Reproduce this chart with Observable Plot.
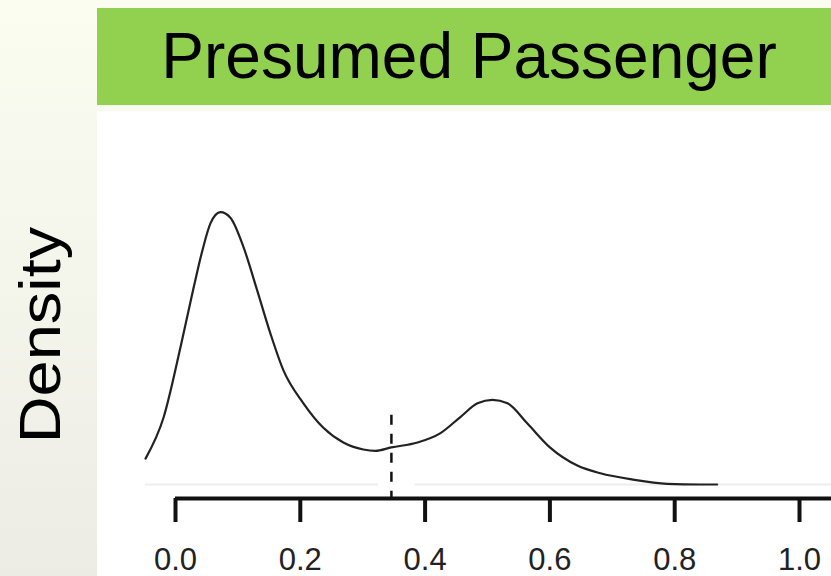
<!DOCTYPE html>
<html><head><meta charset="utf-8">
<script src="https://cdn.jsdelivr.net/npm/d3@7"></script>
<script src="https://cdn.jsdelivr.net/npm/@observablehq/plot@0.6"></script>
<style>
html,body{margin:0;padding:0;}
body{width:831px;height:576px;position:relative;overflow:hidden;background:linear-gradient(#fbfdf1,#ecece4);font-family:"Liberation Sans",Arial,sans-serif;}
#title{position:absolute;left:97px;top:8px;width:734px;height:97px;background:#92d050;color:#000;font-size:64px;line-height:97px;text-align:center;white-space:nowrap;box-sizing:border-box;padding-left:10px;}
#panel{position:absolute;left:97px;top:111px;width:734px;height:465px;background:#fff;overflow:hidden;}
#ylab{position:absolute;left:40px;top:335px;transform:translate(-50%,-50%) rotate(-90deg) scaleX(1.12);font-size:58px;white-space:nowrap;color:#000;line-height:1;}
</style>
</head><body>
<div id="title">Presumed Passenger</div>
<div id="ylab">Density</div>
<div id="panel"></div>
<script>
// Density curve
const xValues = [-0.048, -0.019, 0.008, 0.029, 0.043, 0.056, 0.072, 0.088, 0.109, 0.131, 0.152, 0.173, 0.205, 0.237, 0.269, 0.301, 0.320, 0.346, 0.388, 0.424, 0.456, 0.484, 0.508, 0.532, 0.564, 0.600, 0.644, 0.681, 0.733, 0.788, 0.841, 0.868];
const densityValues = [0.37, 0.96, 1.96, 2.81, 3.34, 3.73, 3.89, 3.81, 3.39, 2.77, 2.16, 1.63, 1.16, 0.81, 0.60, 0.50, 0.48, 0.53, 0.60, 0.73, 0.96, 1.16, 1.21, 1.16, 0.87, 0.53, 0.27, 0.16, 0.07, 0.01, 0.00, 0.00];
const tickValues = [0, 0.2, 0.4, 0.6, 0.8, 1.0];
const tickLabels = ["0.0", "0.2", "0.4", "0.6", "0.8", "1.0"];
const axisStart = 0;
const axisEnd = 1.2;
const cutoff = 0.346;
const cutoffTop = 0.99;
const cutoffBottom = -0.19;
const baselineStarts = [-0.048, 0.384];
const baselineEnds = [0.325, 1.2];

const curve = xValues.map((x, i) => ({x, d: densityValues[i]}));
const baseSegs = baselineStarts.map((a, i) => ({a, b: baselineEnds[i]}));

const plot = Plot.plot({
  width: 734, height: 465,
  marginLeft: 78, marginRight: 32, marginTop: 93, marginBottom: 78,
  insetBottom: 14,
  x: {domain: [0, 1], axis: null},
  y: {domain: [0, 4], axis: null},
  style: {background: "transparent", fontFamily: "'Liberation Sans', Arial, sans-serif", color: "#222"},
  marks: [
    Plot.ruleY(baseSegs, {x1: "a", x2: "b", y: 0, stroke: "#eeeeee", strokeWidth: 2}),
    Plot.ruleY([0], {x1: axisStart, x2: axisEnd, dy: 14, stroke: "#111", strokeWidth: 4}),
    Plot.axisX({ticks: tickValues, tickFormat: (d) => tickLabels[tickValues.indexOf(d)], tickSize: 24, tickPadding: 25, fontSize: 31, strokeWidth: 4, stroke: "#111", fill: "#222"}),
    Plot.ruleX([cutoff], {y1: cutoffTop, y2: cutoffBottom, stroke: "#111", strokeWidth: 2.5, strokeDasharray: "10,9"}),
    Plot.line(curve, {x: "x", y: "d", curve: "monotone-x", stroke: "#222", strokeWidth: 2.2})
  ]
});
document.getElementById("panel").appendChild(plot);
</script>
</body></html>
